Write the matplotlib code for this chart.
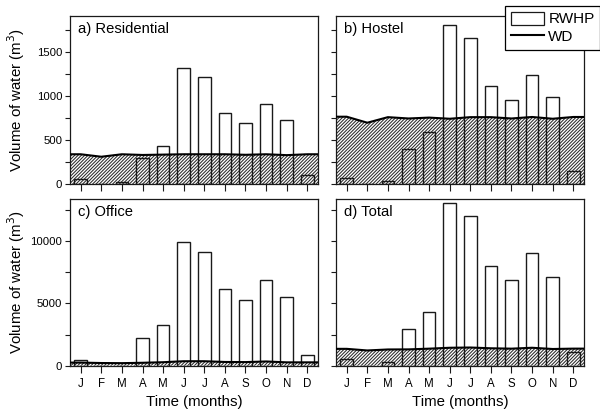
import matplotlib
matplotlib.use("Agg")
import matplotlib.pyplot as plt
from matplotlib.patches import Patch
from matplotlib.lines import Line2D
from matplotlib.ticker import MultipleLocator
import numpy as np

plt.rcParams['font.family'] = ['Liberation Sans', 'DejaVu Sans']
plt.rcParams['hatch.linewidth'] = 0.75

months = ["J", "F", "M", "A", "M", "J", "J", "A", "S", "O", "N", "D"]

# Rainwater harvesting potential (RWHP) per month, m^3
rwhp_residential = [57, 0, 30, 301, 430, 1316, 1214, 810, 697, 912, 724, 105]
rwhp_hostel = [75, 0, 37, 399, 588, 1798, 1651, 1108, 953, 1240, 991, 147]
rwhp_office = [430, 0, 0, 2227, 3248, 9945, 9166, 6142, 5283, 6890, 5499, 836]
rwhp_total = [539, 5, 273, 2927, 4294, 13058, 12063, 8043, 6918, 9089, 7154, 1077]

# Water demand (WD) per month, m^3
wd_residential = [340, 312, 340, 332, 336, 340, 340, 340, 334, 340, 330, 340]
wd_hostel = [765, 697, 760, 745, 755, 742, 760, 760, 745, 762, 742, 762]
wd_office = [250, 215, 205, 235, 280, 360, 360, 300, 290, 340, 270, 270]
wd_total = [1355, 1225, 1305, 1312, 1370, 1442, 1462, 1400, 1370, 1442, 1342, 1372]

panels = [
    ("a) Residential", rwhp_residential, wd_residential),
    ("b) Hostel", rwhp_hostel, wd_hostel),
    ("c) Office", rwhp_office, wd_office),
    ("d) Total", rwhp_total, wd_total),
]

W, H = 600, 417
fig = plt.figure(figsize=(6.0, 4.17), dpi=100)

def box(l, r, t, b):
    return [l / W, 1 - b / H, (r - l) / W, (b - t) / H]

rects = [box(70, 318, 16, 184.3), box(336, 584, 16, 184.3),
         box(70, 318, 199, 365.7), box(336, 584, 199, 365.7)]
ylims = [1905, 1905, 13400, 13400]
majors = [500, 500, 5000, 5000]

edge = "#1a1a1a"
x = np.arange(1, 13)
xlo, xhi = 0.48, 12.52

for i, ((title, rwhp, wd), rect) in enumerate(zip(panels, rects)):
    ax = fig.add_axes(rect)
    # demand curve, held flat out to the axis edges
    xs = np.concatenate([[xlo], x, [xhi]])
    ys = np.concatenate([[wd[0]], wd, [wd[-1]]])
    ax.fill_between(xs, 0, ys, facecolor="white", edgecolor="#2b2b2b",
                    hatch="//////////", linewidth=0, zorder=1)
    ax.bar(x, rwhp, width=0.62, facecolor="none", edgecolor=edge,
           linewidth=1.0, zorder=3)
    ax.plot(xs, ys, color="black", linewidth=1.5, zorder=4)

    ax.set_xlim(xlo, xhi)
    ax.set_ylim(0, ylims[i])
    ax.set_xticks(x)
    ax.yaxis.set_major_locator(MultipleLocator(majors[i]))
    ax.yaxis.set_minor_locator(MultipleLocator(majors[i] / 2))
    ax.tick_params(axis="x", direction="out", length=5, width=0.8,
                   pad=3.5, labelsize=8.3, color=edge)
    ax.tick_params(axis="y", which="both", direction="out", length=3.5,
                   width=0.8, pad=2, labelsize=8.2, color=edge)
    for s in ax.spines.values():
        s.set_linewidth(0.9)
        s.set_color(edge)

    if i >= 2:
        ax.set_xticklabels(months)
        ax.set_xlabel("Time (months)", fontsize=10.8, labelpad=4)
    else:
        ax.set_xticklabels([])
    if i % 2 == 0:
        ax.set_ylabel("Volume of water (m$^3$)", fontsize=10.8)
        ax.yaxis.set_label_coords(-0.175, 0.5)
    else:
        ax.set_yticklabels([])

    ax.text(0.032, 0.925, title, transform=ax.transAxes, ha="left",
            va="center", fontsize=10.6, zorder=5)

handles = [Patch(facecolor="white", edgecolor=edge, linewidth=0.9),
           Line2D([0], [0], color="black", linewidth=1.5)]
leg = fig.legend(handles, ["RWHP", "WD"], loc="upper right",
                 bbox_to_anchor=(1.0, 0.985), fontsize=11,
                 frameon=True, fancybox=False, edgecolor="black",
                 framealpha=1, handlelength=2.2, handleheight=0.95,
                 handletextpad=0.28, labelspacing=0.2, borderpad=0.35,
                 borderaxespad=0)
leg.get_frame().set_linewidth(0.9)
leg.set_zorder(10)

fig.savefig("out.png", dpi=100)
